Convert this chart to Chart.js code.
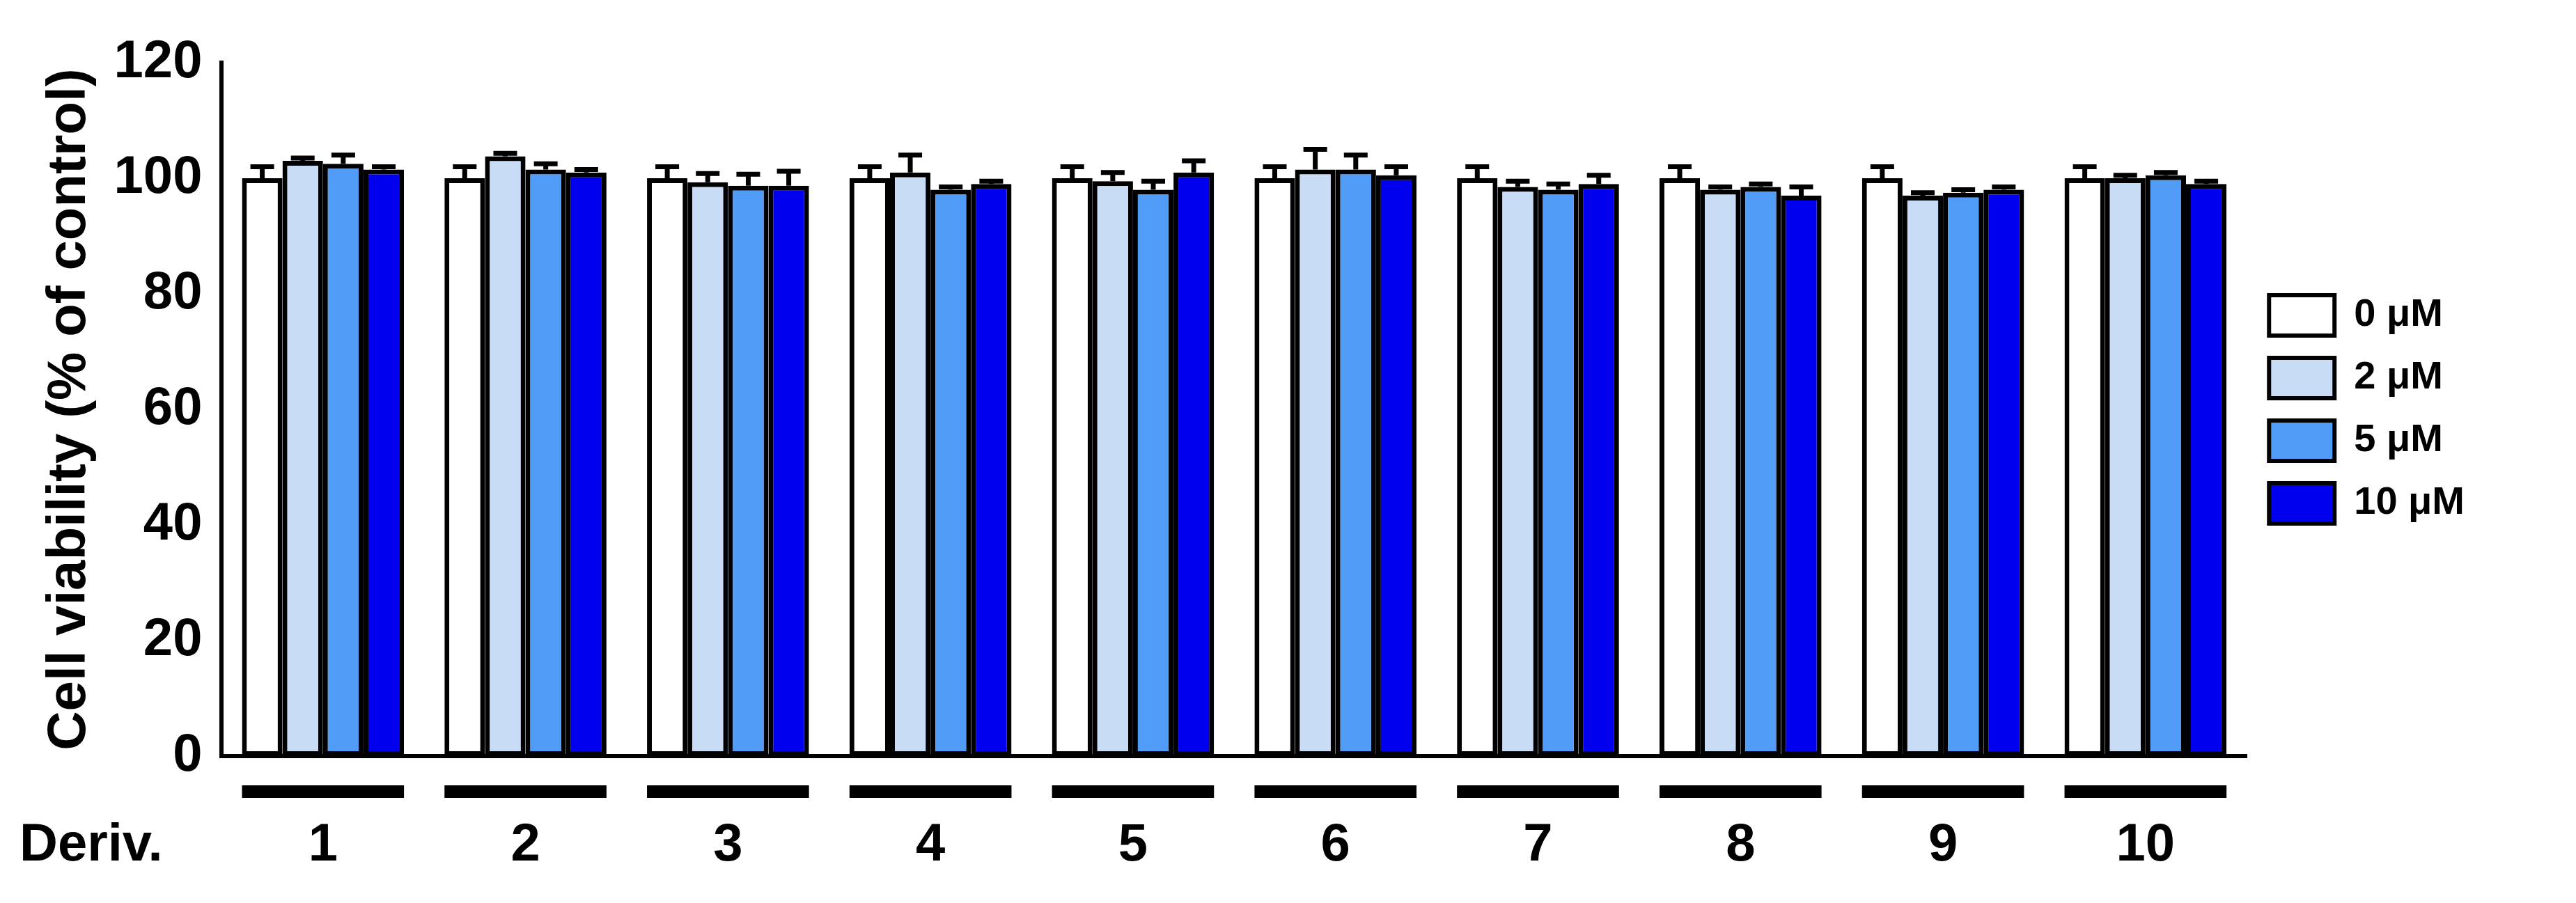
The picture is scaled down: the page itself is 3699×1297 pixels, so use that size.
<!DOCTYPE html>
<html><head><meta charset="utf-8">
<script src="https://cdn.jsdelivr.net/npm/chart.js@4"></script>
<style>html,body{margin:0;background:#fff}#w{width:3699px;height:1297px}</style></head>
<body><div id="w"><canvas id="c"></canvas></div>
<script>
const categories = ['1','2','3','4','5','6','7','8','9','10'];
const seriesNames = ['0 \u03BCM','2 \u03BCM','5 \u03BCM','10 \u03BCM'];
const colors = ['#ffffff','#c8dcf6','#519cf6','#0000ee'];
const v0 = [100,100,100,100,100,100,100,100,100,100];
const v2 = [103,103.8,99.3,101,99.5,101.5,98.5,98,97,100];
const v5 = [102.5,101.5,98.7,98,98,101.5,98,98.5,97.5,100.5];
const v10 = [101.5,101,98.7,99,101,100.5,99,97,98,99];
const e0 = [2,2,2,2,2,2,2,2,2,2];
const e2 = [0.5,0.5,1.5,3,1.5,3.5,1,0.5,0.5,0.5];
const e5 = [1.5,1,2,0.5,1.5,2.5,1,0.5,0.5,0.5];
const e10 = [0.5,0.5,2.5,0.5,2,1.5,1.5,1.5,0.5,0.5];
const yTicks = [0,20,40,60,80,100,120];
const vals=[v0,v2,v5,v10], errs=[e0,e2,e5,e10];
const F='Arial, "Liberation Sans", sans-serif';
const extras={id:'extras',afterDatasetsDraw(ch){
  const c=ch.ctx, y=ch.scales.y;
  c.save(); c.strokeStyle='#000'; c.lineWidth=7;
  ch.data.datasets.forEach((ds,i)=>{
    ch.getDatasetMeta(i).data.forEach((b,j)=>{
      const top=y.getPixelForValue(vals[i][j]), t=y.getPixelForValue(vals[i][j]+errs[i][j]);
      c.beginPath(); c.moveTo(b.x,top); c.lineTo(b.x,t);
      c.moveTo(b.x-17,t); c.lineTo(b.x+17,t); c.stroke();
    });
  });
  const m0=ch.getDatasetMeta(0), m3=ch.getDatasetMeta(3);
  c.lineWidth=18; c.lineCap='butt';
  c.fillStyle='#000'; c.font='bold 76px '+F; c.textBaseline='middle'; c.textAlign='center';
  categories.forEach((lab,j)=>{
    const a=m0.data[j].x-m0.data[j].width/2, b=m3.data[j].x+m3.data[j].width/2;
    c.beginPath(); c.moveTo(a,1137); c.lineTo(b,1137); c.stroke();
    c.fillText(lab,(a+b)/2,1215);
  });
  c.textAlign='left';
  c.fillText('Deriv.',28,1215);
  c.restore();
}};
new Chart(document.getElementById('c'),{type:'bar',
 data:{labels:categories,datasets:seriesNames.map((n,i)=>({label:n,data:vals[i],backgroundColor:colors[i],borderColor:'#000',borderWidth:7,borderSkipped:false,categoryPercentage:0.8,barPercentage:1}))},
 options:{responsive:true,maintainAspectRatio:false,animation:false,
  layout:{padding:{top:90,left:50,right:150,bottom:211}},
  plugins:{tooltip:{enabled:false},legend:{position:'right',align:'center',
    labels:{color:'#000',font:{family:F,size:56,weight:'bold'},boxWidth:94,boxHeight:58,padding:32,
     generateLabels:ch=>seriesNames.map((n,i)=>({text:n,fillStyle:colors[i],strokeStyle:'#000',lineWidth:6,datasetIndex:i}))}}},
  scales:{
   x:{grid:{display:false,drawTicks:false},border:{color:'#000',width:6},ticks:{display:false}},
   y:{min:0,max:120,afterBuildTicks:s=>{s.ticks=yTicks.map(v=>({value:v}));},
      grid:{display:false,drawTicks:true,tickLength:22,tickWidth:6,tickColor:'#000',drawOnChartArea:false},
      border:{color:'#000',width:6},
      ticks:{color:'#000',padding:6,font:{family:F,size:76,weight:'bold'}},
      title:{display:true,text:'Cell viability (% of control)',color:'#000',font:{family:F,size:78,weight:'bold'},padding:{bottom:10}}}}},
 plugins:[extras]});
</script></body></html>
